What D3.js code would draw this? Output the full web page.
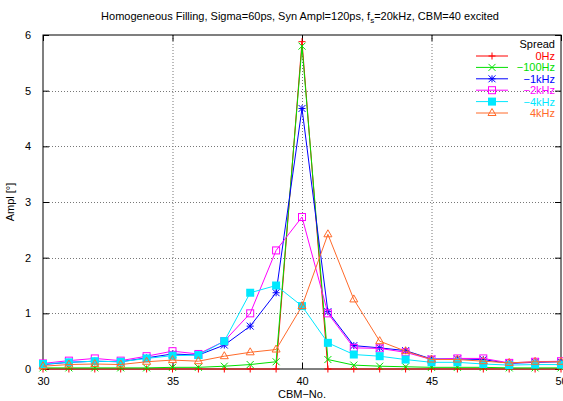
<!DOCTYPE html>
<html>
<head>
<meta charset="utf-8">
<script src="https://cdn.jsdelivr.net/npm/d3@7"></script>
<style>
  body { margin: 0; background: #fff; }
  svg { font-family: "Liberation Sans", Arial, sans-serif; }
</style>
</head>
<body>
<svg id="chart" width="563" height="401"></svg>
<script>
// CBM numbers on the x axis
const cbm = [30, 31, 32, 33, 34, 35, 36, 37, 38, 39, 40, 41, 42, 43, 44, 45, 46, 47, 48, 49, 50];

// amplitude per spread setting
const hz0 = [0, 0, 0, 0, 0, 0, 0, 0, 0, 0, 5.88, 0, 0, 0, 0, 0, 0, 0, 0, 0, 0];
const hz100m = [0.02, 0.02, 0.02, 0.02, 0.02, 0.03, 0.03, 0.05, 0.08, 0.13, 5.8, 0.17, 0.07, 0.05, 0.04, 0.03, 0.03, 0.03, 0.02, 0.02, 0.02];
const khz1m = [0.08, 0.12, 0.14, 0.13, 0.2, 0.27, 0.25, 0.43, 0.77, 1.37, 4.68, 1.03, 0.42, 0.38, 0.33, 0.18, 0.18, 0.17, 0.1, 0.12, 0.13];
const khz2m = [0.1, 0.15, 0.19, 0.15, 0.23, 0.32, 0.27, 0.5, 1.0, 2.13, 2.73, 1.0, 0.38, 0.37, 0.3, 0.17, 0.19, 0.19, 0.11, 0.13, 0.14];
const khz4m = [0.09, 0.12, 0.14, 0.13, 0.19, 0.24, 0.25, 0.5, 1.37, 1.5, 1.13, 0.47, 0.26, 0.23, 0.17, 0.12, 0.12, 0.09, 0.07, 0.08, 0.08];
const khz4 = [0.05, 0.08, 0.09, 0.08, 0.13, 0.16, 0.14, 0.23, 0.3, 0.35, 1.13, 2.42, 1.25, 0.5, 0.32, 0.17, 0.17, 0.14, 0.11, 0.13, 0.13];

const seriesNames = ["0Hz", "\u2212100Hz", "\u22121kHz", "\u22122kHz", "\u22124kHz", "4kHz"];
const seriesValues = [hz0, hz100m, khz1m, khz2m, khz4m, khz4];
const seriesColors = ["#ff0000", "#00e000", "#0000ff", "#ff00ff", "#00e8ff", "#ff6a2a"];
const seriesMarks = ["plus", "cross", "star", "square", "fsquare", "triangle"];

const xTicks = [30, 35, 40, 45, 50];
const yTicks = [0, 1, 2, 3, 4, 5, 6];

const svg = d3.select("#chart");
const margin = { left: 43, right: 2, top: 35, bottom: 32 };
const W = 563, H = 401;

const x = d3.scaleLinear().domain([30, 50]).range([margin.left, W - margin.right]);
const y = d3.scaleLinear().domain([0, 6]).range([H - margin.bottom, margin.top]);

// title
const title = svg.append("text")
    .attr("x", 300).attr("y", 20)
    .attr("text-anchor", "middle")
    .attr("font-size", 11);
title.append("tspan").text("Homogeneous Filling, Sigma=60ps, Syn Ampl=120ps, f");
title.append("tspan").attr("font-size", 8).attr("dy", 3).text("s");
title.append("tspan").attr("dy", -3).text("=20kHz, CBM=40 excited");

// grid
const grid = svg.append("g")
    .attr("stroke", "#777")
    .attr("stroke-width", 1)
    .attr("stroke-dasharray", "1,2");
grid.selectAll("line.gx")
    .data(xTicks.slice(1, -1))
    .join("line")
    .attr("x1", d => x(d) + 0.5).attr("x2", d => x(d) + 0.5)
    .attr("y1", y(0)).attr("y2", y(6));
grid.selectAll("line.gy")
    .data(yTicks.slice(1, -1))
    .join("line")
    .attr("y1", d => Math.round(y(d)) + 0.5).attr("y2", d => Math.round(y(d)) + 0.5)
    .attr("x1", x(30)).attr("x2", x(50));

// axes (ticks inward, mirrored)
const axB = svg.append("g")
    .attr("transform", `translate(0,${y(0)})`)
    .call(d3.axisBottom(x).tickValues(xTicks).tickSize(-6).tickPadding(8));
const axT = svg.append("g")
    .attr("transform", `translate(0,${y(6)})`)
    .call(d3.axisTop(x).tickValues(xTicks).tickSize(-6).tickFormat(""));
const axL = svg.append("g")
    .attr("transform", `translate(${x(30)},0)`)
    .call(d3.axisLeft(y).tickValues(yTicks).tickSize(-6).tickPadding(12).tickFormat(d3.format("d")));
const axR = svg.append("g")
    .attr("transform", `translate(${x(50)},0)`)
    .call(d3.axisRight(y).tickValues(yTicks).tickSize(-6).tickFormat(""));

[axB, axT, axL, axR].forEach(a => {
    a.select(".domain").remove();
    a.selectAll("line").attr("stroke", "#000");
    a.selectAll("text")
        .attr("font-size", 11)
        .attr("font-family", "Liberation Sans, Arial, sans-serif")
        .attr("fill", "#000");
});

svg.append("rect")
    .attr("x", x(30)).attr("y", y(6))
    .attr("width", x(50) - x(30)).attr("height", y(0) - y(6))
    .attr("fill", "none").attr("stroke", "#000").attr("stroke-width", 1);

// axis labels
svg.append("text")
    .attr("x", 302).attr("y", 398)
    .attr("text-anchor", "middle")
    .attr("font-size", 11)
    .text("CBM\u2212No.");
svg.append("text")
    .attr("transform", "translate(14,202) rotate(-90)")
    .attr("text-anchor", "middle")
    .attr("font-size", 11)
    .text("Ampl [\u00b0]");

// marker drawing
const drawMark = (g, type, color, cx, cy) => {
    const s = 3.5;
    if (type === "plus") {
        g.append("path").attr("d", `M${cx - s},${cy}H${cx + s}M${cx},${cy - s}V${cy + s}`)
            .attr("stroke", color).attr("stroke-width", 1).attr("fill", "none");
    } else if (type === "cross") {
        g.append("path").attr("d", `M${cx - s},${cy - s}L${cx + s},${cy + s}M${cx - s},${cy + s}L${cx + s},${cy - s}`)
            .attr("stroke", color).attr("stroke-width", 1).attr("fill", "none");
    } else if (type === "star") {
        g.append("path").attr("d", `M${cx - s},${cy}H${cx + s}M${cx},${cy - s}V${cy + s}M${cx - s},${cy - s}L${cx + s},${cy + s}M${cx - s},${cy + s}L${cx + s},${cy - s}`)
            .attr("stroke", color).attr("stroke-width", 1).attr("fill", "none");
    } else if (type === "square") {
        g.append("rect").attr("x", cx - s).attr("y", cy - s).attr("width", 2 * s).attr("height", 2 * s)
            .attr("stroke", color).attr("stroke-width", 1).attr("fill", "none");
    } else if (type === "fsquare") {
        g.append("rect").attr("x", cx - 4).attr("y", cy - 4).attr("width", 8).attr("height", 8)
            .attr("fill", color);
    } else if (type === "triangle") {
        g.append("path").attr("d", `M${cx},${cy - 4.5}L${cx + 4},${cy + 2.5}L${cx - 4},${cy + 2.5}Z`)
            .attr("stroke", color).attr("stroke-width", 1).attr("fill", "none");
    }
};

// series
const line = d3.line().x((d, i) => x(cbm[i])).y(d => y(d));
const plot = svg.append("g");
seriesValues.forEach((vals, k) => {
    const g = plot.append("g");
    g.append("path")
        .datum(vals)
        .attr("d", line)
        .attr("fill", "none")
        .attr("stroke", seriesColors[k])
        .attr("stroke-width", 1);
    vals.forEach((v, i) => drawMark(g, seriesMarks[k], seriesColors[k], x(cbm[i]), y(v)));
});

// legend
const lg = svg.append("g");
lg.append("text")
    .attr("x", 555).attr("y", 48)
    .attr("text-anchor", "end")
    .attr("font-size", 11)
    .text("Spread");
seriesNames.forEach((name, k) => {
    const ly = 56 + k * 11.4;
    lg.append("line")
        .attr("x1", 476).attr("x2", 508)
        .attr("y1", ly).attr("y2", ly)
        .attr("stroke", seriesColors[k]).attr("stroke-width", 1);
    drawMark(lg, seriesMarks[k], seriesColors[k], 492, ly);
    lg.append("text")
        .attr("x", 555).attr("y", ly + 4)
        .attr("text-anchor", "end")
        .attr("font-size", 11)
        .attr("fill", seriesColors[k])
        .text(name);
});
</script>
</body>
</html>
